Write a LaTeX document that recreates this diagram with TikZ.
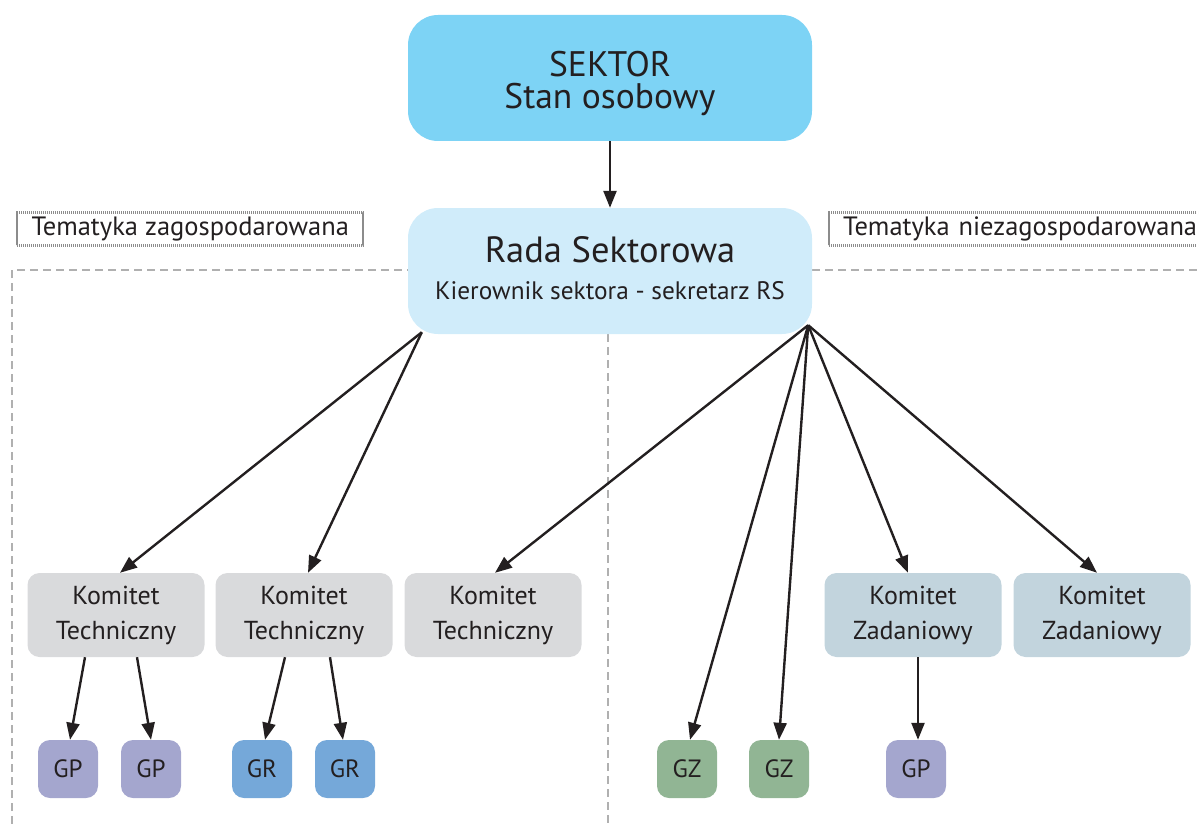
\documentclass[tikz,border=0pt]{standalone}
\usepackage{fontspec}
\setmainfont{PT Sans}
\usetikzlibrary{arrows.meta,calc}
\definecolor{txt}{HTML}{231F20}
\definecolor{csek}{HTML}{7DD3F5}
\definecolor{crada}{HTML}{D0ECFA}
\definecolor{ckt}{HTML}{D9DADC}
\definecolor{ckz}{HTML}{C2D4DD}
\definecolor{cgp}{HTML}{A4A6CE}
\definecolor{cgr}{HTML}{75A8D9}
\definecolor{cgz}{HTML}{91B594}
\definecolor{cdash}{HTML}{B0B0B0}
\tikzset{
  topbox/.style={rounded corners=30pt, minimum width=404pt, minimum height=126pt, inner sep=0pt},
  toptext/.style={inner sep=0pt, align=center, text=txt},
  kbox/.style={rounded corners=12pt, minimum width=177pt, minimum height=84pt, inner sep=0pt, align=center, text=txt, font=\fontsize{26}{35}\selectfont},
  gbox/.style={rounded corners=12pt, minimum width=60pt, minimum height=58pt, inner sep=0pt, text=txt, font=\fontsize{25}{28}\selectfont},
  lbl/.style={draw=gray!90, dash pattern=on 1.2pt off 0.8pt, line width=2.4pt, inner sep=0pt, minimum height=33pt, text=txt, font=\fontsize{26.5}{30}\selectfont, anchor=west},
  sep/.style={draw=cdash, line width=1.6pt, dash pattern=on 8pt off 5pt},
  conn/.style={draw=txt, line width=2.4pt, -{Triangle[length=17pt,width=13pt]}}
}
\begin{document}
\begin{tikzpicture}[x=1pt,y=-1pt]
\useasboundingbox (0,0) rectangle (1197,824);
\clip (0,0) rectangle (1197,824);
% separators
\draw[sep] (12,824) -- (12,270) -- (408,270);
\draw[sep] (812,270) -- (1197,270);
\draw[sep] (608,334) -- (608,824);
% labels
\node[lbl, minimum width=346pt] (lz) at (16,229) {Tematyka zagospodarowana};
\node[lbl, minimum width=380pt, text width=380pt, align=left] (ln) at (828,229) {\hspace*{14pt}Tematyka niezagospodarowana};
% top boxes
\node[topbox, fill=csek] (sek) at (610,78) {};
\node[toptext, font=\fontsize{35.5}{32}\selectfont] (sekt) at (610,84) {SEKTOR\\Stan osobowy};
\node[topbox, fill=crada] (rada) at (610,271) {};
\node[toptext, font=\fontsize{36.5}{37}\selectfont] (radat) at (610,268) {Rada Sektorowa\\\fontsize{25.3}{37}\selectfont Kierownik sektora - sekretarz RS};
% komitety
\node[kbox, fill=ckt] (kt1) at (116,615) {Komitet\\Techniczny};
\node[kbox, fill=ckt] (kt2) at (304,615) {Komitet\\Techniczny};
\node[kbox, fill=ckt] (kt3) at (493,615) {Komitet\\Techniczny};
\node[kbox, fill=ckz] (kz1) at (913,615) {Komitet\\Zadaniowy};
\node[kbox, fill=ckz] (kz2) at (1102,615) {Komitet\\Zadaniowy};
% groups
\node[gbox, fill=cgp] (gp1) at (68,769) {GP};
\node[gbox, fill=cgp] (gp2) at (151,769) {GP};
\node[gbox, fill=cgr] (gr1) at (262,769) {GR};
\node[gbox, fill=cgr] (gr2) at (345,769) {GR};
\node[gbox, fill=cgz] (gz1) at (687,769) {GZ};
\node[gbox, fill=cgz] (gz2) at (779,769) {GZ};
\node[gbox, fill=cgp] (gp3) at (916,769) {GP};
% connectors
\coordinate (rl) at ($(rada.south west)+(14,-2)$);
\coordinate (rr) at ($(rada.south east)+(-4,-9)$);
\draw[conn] (sek.south) -- (rada.north);
\draw[conn] (rl) -- ($(kt1.north)+(4,0)$);
\draw[conn] (rl) -- ($(kt2.north)+(4,0)$);
\draw[conn] (rr) -- ($(kt3.north)+(2,0)$);
\draw[conn] (rr) -- ($(gz1.north)+(3,0)$);
\draw[conn] (rr) -- (gz2.north);
\draw[conn] (rr) -- ($(kz1.north)+(-5,0)$);
\draw[conn] (rr) -- ($(kz2.north)+(-5,0)$);
\draw[conn] ($(kt1.south)+(-31,0)$) -- ($(gp1.north)+(2,0)$);
\draw[conn] ($(kt1.south)+(21,0)$) -- (gp2.north);
\draw[conn] ($(kt2.south)+(-19,0)$) -- ($(gr1.north)+(3,0)$);
\draw[conn] ($(kt2.south)+(26,0)$) -- ($(gr2.north)+(-2,0)$);
\draw[conn] ($(kz1.south)+(5,0)$) -- ($(gp3.north)+(2,0)$);
\end{tikzpicture}
\end{document}
